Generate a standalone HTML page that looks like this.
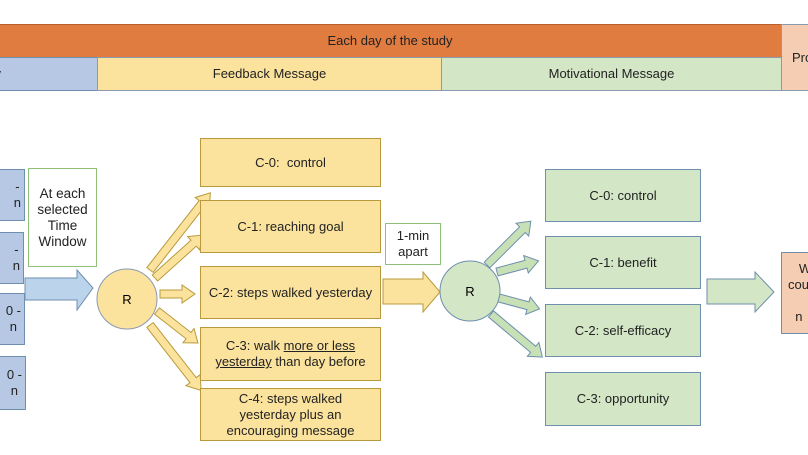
<!DOCTYPE html>
<html><head><style>
body{margin:0;width:808px;height:455px;background:#fff;overflow:hidden;position:relative;font-family:"Liberation Sans",sans-serif;font-size:13px;color:#222}
.b{position:absolute;box-sizing:border-box;display:flex;align-items:center;justify-content:center;text-align:center;line-height:16px}
.y{background:#fbe39e;border:1px solid #b89a3c}
.g{background:#d3e6c6;border:1px solid #6f8fae}
.bl{background:#b6c8e4;border:1px solid #6f8fae}
</style></head><body>
<div class="b" style="left:-2px;top:24px;width:784px;height:34px;background:#e07c40;border:1px solid #b86030">Each day of the study</div>
<div class="b" style="left:781px;top:24px;width:30px;height:67px;background:#f5cdb2;border:1px solid #8a9ab0;justify-content:flex-start;padding-left:10px">Pro</div>
<div class="b" style="left:-2px;top:57px;width:100px;height:34px;background:#b6c8e4;border:1px solid #6f8fae;justify-content:flex-end;padding-right:96px">y</div>
<div class="b" style="left:97px;top:57px;width:345px;height:34px;background:#fbe39e;border:1px solid #8a9ab0">Feedback Message</div>
<div class="b" style="left:441px;top:57px;width:341px;height:34px;background:#d3e6c6;border:1px solid #8a9ab0">Motivational Message</div>

<div class="b bl" style="left:-2px;top:169px;width:27px;height:52px;justify-content:flex-end;padding-right:3px">-<br>n</div>
<div class="b bl" style="left:-2px;top:232px;width:26px;height:52px;justify-content:flex-end;padding-right:3px">-<br>n</div>
<div class="b bl" style="left:-2px;top:293px;width:27px;height:52px;justify-content:flex-end;padding-right:3px">0 -<br>n</div>
<div class="b bl" style="left:-2px;top:356px;width:28px;height:54px;justify-content:flex-end;padding-right:3px">0 -<br>n</div>
<div class="b" style="left:28px;top:168px;width:69px;height:99px;border:1px solid #8fc07a;font-size:13.5px">At each selected Time Window</div>

<svg style="position:absolute;left:0;top:0" width="808" height="455">
<polygon points="25,278 77,278 77,270 93,288 77,310 77,300 25,300" fill="#bcd3ec" stroke="#6f8fae"/>
<circle cx="127" cy="299" r="30" fill="#fbe39e" stroke="#8a9ab0"/>
<circle cx="470" cy="291" r="30" fill="#d3e6c6" stroke="#6f8fae"/>
<polygon points="383,279 423,279 423,272 440,292 423,312 423,304 383,304" fill="#fbe39e" stroke="#b89a3c"/>
<polygon points="707,279 755,279 755,272 774,292 755,312 755,304 707,304" fill="#d3e6c6" stroke="#6f8fae"/>
<g fill="#fbe39e" stroke="#b89a3c" stroke-width="1">
<g transform="translate(150,270) rotate(-52)"><polygon points="0,-4 85,-4 85,-9 98,0 85,9 85,4 0,4"/></g>
<g transform="translate(155,278) rotate(-42)"><polygon points="0,-4 52,-4 52,-9 64,0 52,9 52,4 0,4"/></g>
<g transform="translate(160,294)"><polygon points="0,-4 22,-4 22,-9 35,0 22,9 22,4 0,4"/></g>
<g transform="translate(157,311) rotate(38)"><polygon points="0,-4 40,-4 40,-9 52,0 40,9 40,4 0,4"/></g>
<g transform="translate(150,325) rotate(52)"><polygon points="0,-4 70,-4 70,-9 83,0 70,9 70,4 0,4"/></g>
</g>
<g fill="#c8e0b6" stroke="#6f8fae">
<g transform="translate(487,265) rotate(-45)"><polygon points="0,-4 50,-4 50,-9 62,0 50,9 50,4 0,4"/></g>
<g transform="translate(497,272) rotate(-15)"><polygon points="0,-4 30,-4 30,-9 43,0 30,9 30,4 0,4"/></g>
<g transform="translate(499,298) rotate(15)"><polygon points="0,-4 30,-4 30,-9 42,0 30,9 30,4 0,4"/></g>
<g transform="translate(491,314) rotate(40)"><polygon points="0,-4 55,-4 55,-9 67,0 55,9 55,4 0,4"/></g>
</g>
<text x="127" y="304" text-anchor="middle" font-size="13" font-family="Liberation Sans">R</text>
<text x="470" y="296" text-anchor="middle" font-size="13" font-family="Liberation Sans">R</text>
</svg>

<div class="b y" style="left:200px;top:138px;width:181px;height:49px">C-0:&nbsp; control</div>
<div class="b y" style="left:200px;top:200px;width:181px;height:53px">C-1: reaching goal</div>
<div class="b y" style="left:200px;top:266px;width:181px;height:53px">C-2: steps walked yesterday</div>
<div class="b y" style="left:200px;top:327px;width:181px;height:54px"><span>C-3: walk <u>more or less</u><br><u>yesterday</u> than day before</span></div>
<div class="b y" style="left:200px;top:388px;width:181px;height:53px;padding:0 12px">C-4: steps walked yesterday plus an encouraging message</div>
<div class="b" style="left:385px;top:223px;width:56px;height:42px;border:1px solid #8fc07a">1-min apart</div>

<div class="b g" style="left:545px;top:169px;width:156px;height:53px">C-0: control</div>
<div class="b g" style="left:545px;top:236px;width:156px;height:53px">C-1: benefit</div>
<div class="b g" style="left:545px;top:304px;width:156px;height:53px">C-2: self-efficacy</div>
<div class="b g" style="left:545px;top:372px;width:156px;height:54px">C-3: opportunity</div>
<div class="b" style="left:781px;top:252px;width:32px;height:82px;background:#f5cdb2;border:1px solid #6f8fae;justify-content:flex-start;padding-left:6px;text-align:left">&nbsp;&nbsp;&nbsp;W<br>cou<br><br>&nbsp;&nbsp;n</div>
</body></html>
